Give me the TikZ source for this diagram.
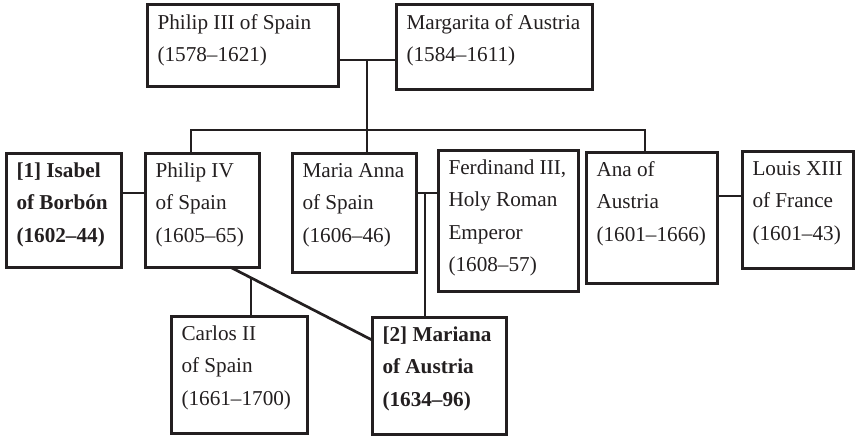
\documentclass[tikz,border=0pt]{standalone}
\usepackage{fontspec}
\setmainfont{Liberation Serif}
\definecolor{ink}{RGB}{35,31,32}
\newcommand\famtxt[3]{\vbox to #2{\hsize=#1\relax\parindent=0pt\leftskip=10.5pt\rightskip=0pt plus 1fil\hyphenpenalty=10000\baselineskip=32.5pt\lineskiplimit=-100pt\rule{0pt}{24pt}#3\par\vfil}}
\tikzset{
  fambox/.style={draw=ink, text=ink, line width=3pt, anchor=north west, inner sep=0pt, outer sep=0pt,
    font=\fontsize{21.2}{32.5}\selectfont},
  link/.style={draw=ink, line width=2.7pt}
}
\begin{document}
\begin{tikzpicture}[x=1pt,y=-1pt]
\useasboundingbox (0,0) rectangle (855,436);
% top generation
\node[fambox] (p3) at (147,5) {\famtxt{191pt}{82pt}{Philip III of Spain\\(1578--1621)}};
\node[fambox] (marg) at (396,5) {\famtxt{196pt}{85pt}{Margarita of Austria\\(1584--1611)}};
% middle generation
\node[fambox] (isa) at (6,153) {\famtxt{115pt}{114pt}{\bfseries [1] Isabel\\of Borbón\\(1602--44)}};
\node[fambox] (p4) at (145,153) {\famtxt{114pt}{114pt}{Philip IV\\of Spain\\(1605--65)}};
\node[fambox] (ma) at (292,153) {\famtxt{124pt}{119pt}{Maria Anna\\of Spain\\(1606--46)}};
\node[fambox] (ferd) at (438,150) {\famtxt{140pt}{141pt}{Ferdinand III,\\Holy Roman\\Emperor\\(1608--57)}};
\node[fambox] (ana) at (586,152) {\famtxt{131pt}{131pt}{Ana of\\Austria\\(1601--1666)}};
\node[fambox] (louis) at (742,151) {\famtxt{111pt}{117pt}{Louis XIII\\of France\\(1601--43)}};
% bottom generation
\node[fambox] (car) at (171,316) {\famtxt{136pt}{117pt}{Carlos II\\of Spain\\(1661--1700)}};
\node[fambox] (mar) at (372,317) {\famtxt{134pt}{117pt}{\bfseries [2] Mariana\\of Austria\\(1634--96)}};
% helper coordinates
\coordinate (m1) at (367,60);
\coordinate (d1) at (191,130);
\coordinate (d2) at (645,130);
\coordinate (m2) at (133,193);
\coordinate (m3) at (425,193);
\coordinate (m4) at (730,196);
\coordinate (ds) at (230,267);
\coordinate (de) at (372,340);
\coordinate (c1) at (251,277.8);
% connectors
\draw[link] (m1 -| p3.east) -- (m1 -| marg.west);
\draw[link] (m1) -- (m1 |- ma.north);
\draw[link] (d1 |- p4.north) -- (d1) -- (d2) -- (d2 |- ana.north);
\draw[link] (m2 -| isa.east) -- (m2 -| p4.west);
\draw[link] (m3 -| ma.east) -- (m3 -| ferd.west);
\draw[link] (m3) -- (m3 |- mar.north);
\draw[link] (m4 -| ana.east) -- (m4 -| louis.west);
\draw[link] (ds |- p4.south) -- (de -| mar.west);
\draw[link] (c1) -- (c1 |- car.north);
\end{tikzpicture}
\end{document}
